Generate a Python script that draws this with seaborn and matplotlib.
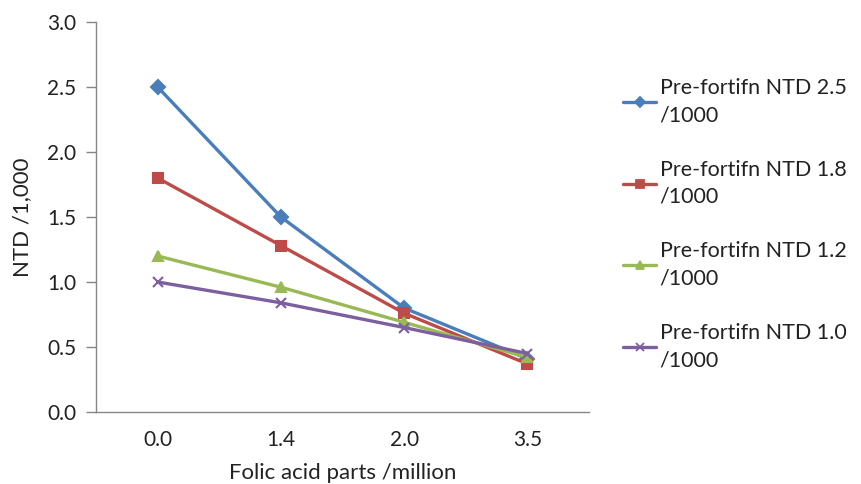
import matplotlib
matplotlib.use("Agg")
import matplotlib.pyplot as plt
import seaborn as sns
import pandas as pd
import numpy as np
from matplotlib.lines import Line2D

categories = ["0.0", "1.4", "2.0", "3.5"]
series_names = ["Pre-fortifn NTD 2.5 /1000", "Pre-fortifn NTD 1.8 /1000",
                "Pre-fortifn NTD 1.2 /1000", "Pre-fortifn NTD 1.0 /1000"]
ntd_25 = [2.50, 1.50, 0.80, 0.41]
ntd_18 = [1.80, 1.28, 0.76, 0.37]
ntd_12 = [1.20, 0.96, 0.69, 0.42]
ntd_10 = [1.00, 0.84, 0.65, 0.45]
y_ticks = [0.0, 0.5, 1.0, 1.5, 2.0, 2.5, 3.0]

colors = ["#4A7EBB", "#BE4B48", "#98B954", "#7D5FA0"]
markers = ["D", "s", "^", "x"]

rows = []
for name, vals in zip(series_names, [ntd_25, ntd_18, ntd_12, ntd_10]):
    for c, v in zip(categories, vals):
        rows.append({"x": c, "y": v, "series": name})
df = pd.DataFrame(rows)

sns.set_style("white")
plt.rcParams["font.family"] = ["Lato", "DejaVu Sans"]

fig = plt.figure(figsize=(8.61, 4.84), dpi=100)
ax = fig.add_axes([96/861, 1-412/484, (589-96)/861, (412-22)/484])

sns.pointplot(data=df, x="x", y="y", hue="series", order=categories,
              hue_order=series_names, palette=colors, markers=markers,
              linestyles="-", ax=ax, legend=False, linewidth=2.4,
              markersize=7, markeredgewidth=1.5)

ax.set_xlim(-0.5, 3.5)
ax.set_ylim(0, 3.0)
ax.set_yticks(y_ticks)
ax.set_yticklabels([f"{t:.1f}" for t in y_ticks])
ax.set_xticks(range(len(categories)))
ax.set_xticklabels(categories)
ax.set_xticks(np.arange(-0.5, len(categories), 1.0), minor=True)
ax.tick_params(axis="x", which="major", length=0, labelsize=15, pad=13, colors="#222222")
ax.tick_params(axis="x", which="minor", length=6, width=1, color="#868686", direction="out")
ax.tick_params(axis="y", length=7, width=1, color="#868686", direction="out", labelsize=15, pad=7, labelcolor="#222222")
ax.tick_params(axis="both", bottom=True, left=True)
for s in ["top", "right"]:
    ax.spines[s].set_visible(False)
for s in ["left", "bottom"]:
    ax.spines[s].set_color("#868686")
    ax.spines[s].set_linewidth(1)

ax.set_xlabel("Folic acid parts /million", fontsize=16, color="#222222", labelpad=9)
ax.set_ylabel("NTD /1,000", fontsize=16, color="#222222", labelpad=11)

hs = [Line2D([], [], color=c, marker=m, linewidth=2.4, markersize=5.5, markeredgewidth=1.3)
      for c, m in zip(colors, markers)]
labels = [n.replace(" /1000", "\n/1000") for n in series_names]
leg = fig.legend(hs, labels, loc="upper left", bbox_to_anchor=(623/861, 1-78/484),
                 frameon=False, fontsize=15.5, labelspacing=1.6, handlelength=1.55,
                 handletextpad=0.15, borderaxespad=0, borderpad=0)
for t in leg.get_texts():
    t.set_linespacing(1.45)
    t.set_color("#222222")

fig.savefig("out.png", dpi=100)
